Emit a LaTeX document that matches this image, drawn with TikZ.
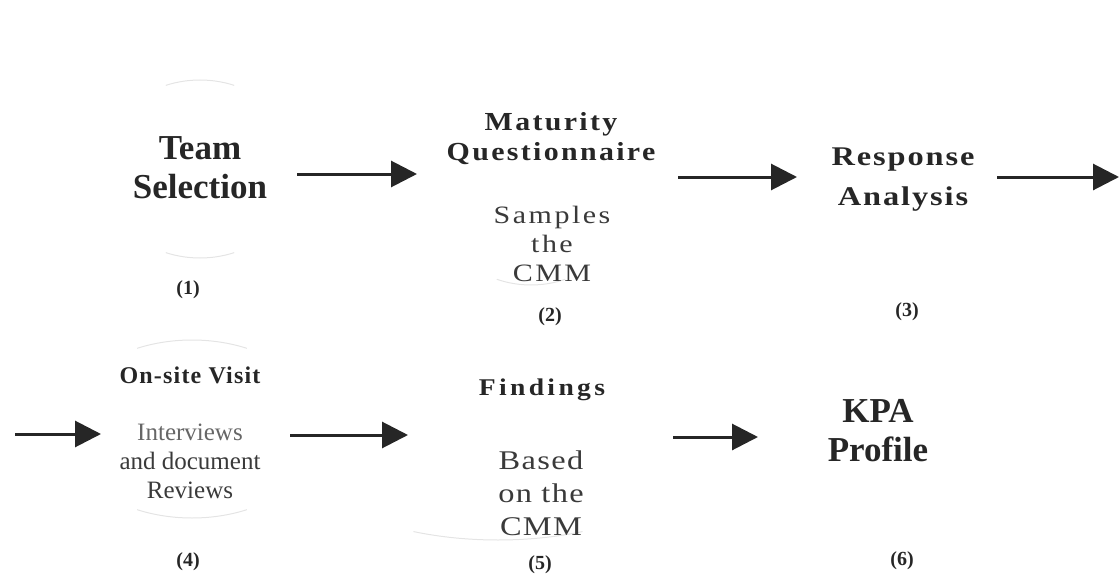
\documentclass[tikz,border=0pt]{standalone}
\usepackage{fontspec}
\setmainfont{Liberation Serif}
\usetikzlibrary{arrows.meta}
\definecolor{ink}{HTML}{262626}
\definecolor{soft}{HTML}{3A3A3A}
\definecolor{faint}{HTML}{E4E4E4}
\tikzset{
  title/.style={inner sep=0pt, align=center, text=ink, font=\bfseries\fontsize{35}{39}\selectfont},
  spacedtitle/.style={inner sep=0pt, align=center, text=ink, font=\bfseries\addfontfeature{FakeStretch=1.15,LetterSpace=9}\fontsize{26}{30}\selectfont},
  respstyle/.style={inner sep=0pt, align=center, text=ink, font=\bfseries\addfontfeature{FakeStretch=1.2,LetterSpace=7}\fontsize{27}{40}\selectfont},
  subtext/.style={inner sep=0pt, align=center, text=soft, font=\addfontfeature{FakeStretch=1.2,LetterSpace=10}\fontsize{25}{29}\selectfont},
  plaintext/.style={inner sep=0pt, align=center, text=soft, font=\fontsize{25}{29}\selectfont},
  numlabel/.style={inner sep=0pt, text=ink, font=\bfseries\fontsize{20}{22}\selectfont},
  flow/.style={draw=ink, line width=3pt, -{Triangle[length=26pt,width=26pt]}},
  ghost/.style={draw=faint, line width=1pt}
}
\begin{document}
\begin{tikzpicture}[x=1pt,y=-1pt]
\useasboundingbox (0,0) rectangle (1120,586);
% faint scan remnants of ellipses (y axis points down: angles 70..110 are at the bottom)
\draw[ghost] (200,169) ++(70:100 and 89) arc[start angle=70,end angle=110,x radius=100,y radius=89];
\draw[ghost] (200,169) ++(250:100 and 89) arc[start angle=250,end angle=290,x radius=100,y radius=89];
\draw[ghost] (531,190) ++(70:100 and 95) arc[start angle=70,end angle=110,x radius=100,y radius=95];
\draw[ghost] (192,429) ++(65:130 and 89) arc[start angle=65,end angle=115,x radius=130,y radius=89];
\draw[ghost] (192,429) ++(245:130 and 89) arc[start angle=245,end angle=295,x radius=130,y radius=89];
\draw[ghost] (498,450) ++(65:200 and 90) arc[start angle=65,end angle=115,x radius=200,y radius=90];

% row 1
\node[title] (team) at (200,168) {Team\\Selection};
\node[numlabel] (n1) at (188,290) {(1)};
\node[spacedtitle] (mq) at (551,139) {Maturity\\Questionnaire};
\node[subtext] (samp) at (552,244) {Samples\\the\\CMM};
\node[numlabel] (n2) at (550,317) {(2)};
\node[respstyle] (resp) at (903,180) {Response\\Analysis};
\node[numlabel] (n3) at (907,312) {(3)};

% row 2
\node[inner sep=0pt, text=ink, font=\bfseries\addfontfeature{LetterSpace=5}\fontsize{24}{28}\selectfont] (visit) at (190,375) {On-site Visit};
\node[plaintext] (iv) at (190,461) {\textcolor{black!60}{Interviews}\\and document\\Reviews};
\node[numlabel] (n4) at (188,562) {(4)};
\node[inner sep=0pt, text=ink, font=\bfseries\addfontfeature{FakeStretch=1.15,LetterSpace=14}\fontsize{24}{28}\selectfont] (find) at (542,390) {Findings};
\node[subtext, font=\addfontfeature{FakeStretch=1.2,LetterSpace=5}\fontsize{27}{33}\selectfont] (based) at (541,493) {Based\\on the\\CMM};
\node[numlabel] (n5) at (540,565) {(5)};
\node[title] (kpa) at (878,431) {KPA\\Profile};
\node[numlabel] (n6) at (902,561) {(6)};

% arrow end points
\coordinate (a1s) at (297,174); \coordinate (a1e) at (417,174);
\coordinate (a2s) at (678,177); \coordinate (a2e) at (797,177);
\coordinate (a3s) at (997,177); \coordinate (a3e) at (1119,177);
\coordinate (a4s) at (15,434);  \coordinate (a4e) at (101,434);
\coordinate (a5s) at (290,435); \coordinate (a5e) at (408,435);
\coordinate (a6s) at (673,437); \coordinate (a6e) at (758,437);

\draw[flow] (a1s) -- (a1e);
\draw[flow] (a2s) -- (a2e);
\draw[flow] (a3s) -- (a3e);
\draw[flow] (a4s) -- (a4e);
\draw[flow] (a5s) -- (a5e);
\draw[flow] (a6s) -- (a6e);
\end{tikzpicture}
\end{document}
